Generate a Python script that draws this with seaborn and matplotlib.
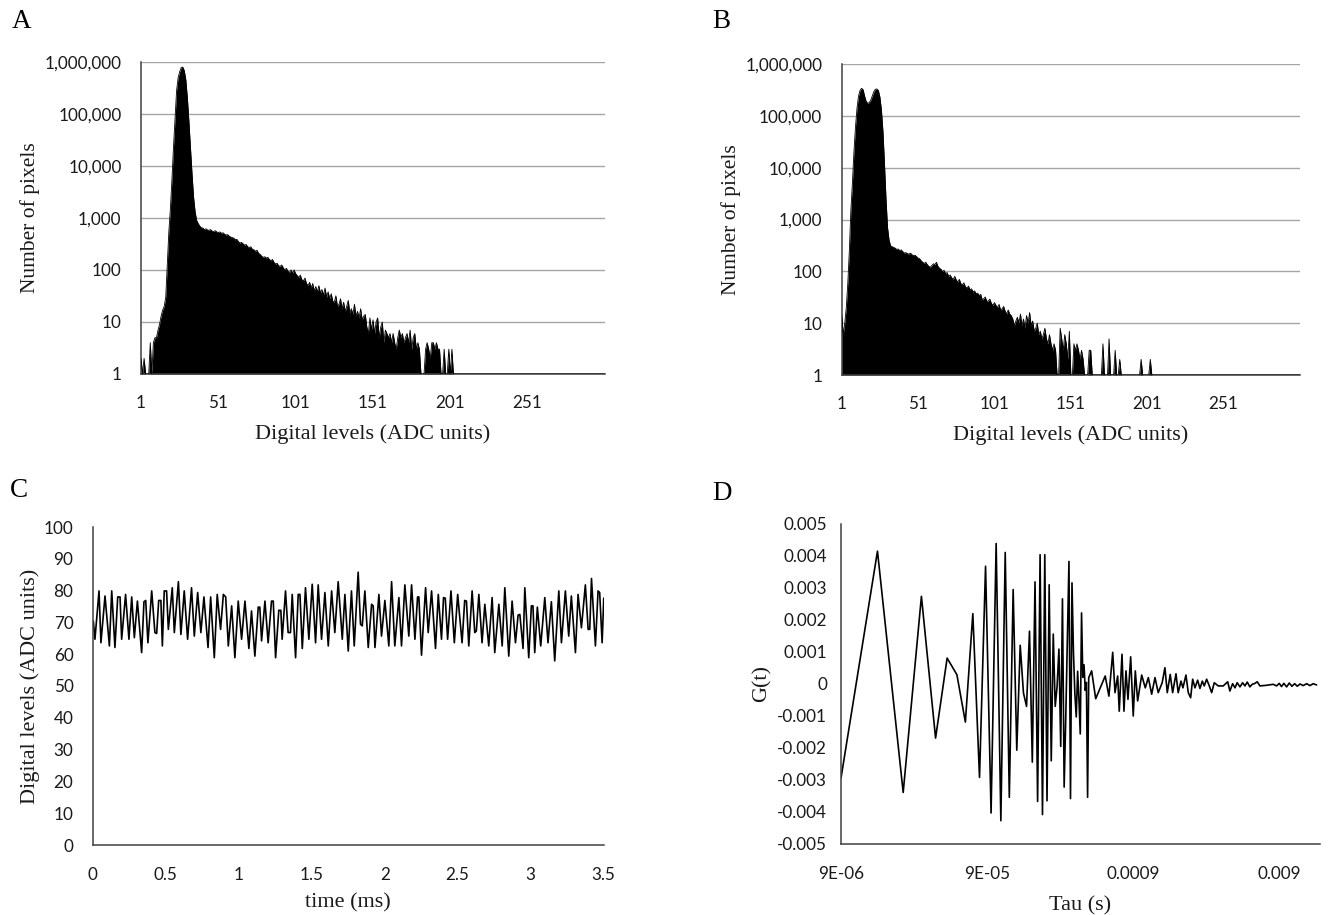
import numpy as np
import matplotlib
matplotlib.use("Agg")
import matplotlib.pyplot as plt
import seaborn as sns
from matplotlib.ticker import FixedLocator, FixedFormatter, NullLocator

# ---------------- data ----------------
adc_levels = np.arange(1, 302)

counts_a = [
    2, 1, 2, 0, 0, 0, 4, 0, 4, 5,
    5, 7, 9, 13, 17, 20, 30, 130, 550, 1500,
    5500, 23000, 80000, 280000, 500000, 650000, 780000, 800000, 680000, 450000,
    200000, 70000, 22000, 7000, 2500, 1300, 900, 780, 700, 650,
    640, 600, 620, 590, 580, 600, 560, 550, 570, 540,
    525, 540, 510, 520, 490, 470, 480, 450, 430, 420,
    410, 380, 390, 350, 330, 340, 320, 300, 310, 280,
    270, 280, 250, 245, 230, 240, 210, 200, 185, 175,
    180, 170, 175, 160, 150, 160, 140, 130, 135, 120,
    118, 125, 110, 100, 108, 95, 90, 100, 88, 100,
    85, 78, 72, 80, 65, 62, 70, 55, 50, 58,
    45, 55, 40, 48, 38, 50, 36, 42, 33, 45,
    30, 38, 28, 35, 25, 24, 32, 20, 22, 28,
    18, 24, 16, 20, 26, 15, 18, 14, 22, 13,
    16, 12, 18, 11, 13, 14, 8, 6, 12, 7,
    11, 6, 10, 12, 5, 8, 10, 4, 7, 6,
    5, 6, 4, 6, 4, 3, 5, 7, 5, 6,
    4, 5, 6, 4, 7, 3, 5, 6, 3, 4,
    3, 0, 0, 0, 3, 4, 3, 2, 4, 4,
    3, 4, 3, 3, 0, 0, 3, 0, 0, 3,
    0, 3, 0, 0, 0,
]
counts_a = counts_a + [0] * (len(adc_levels) - len(counts_a))

counts_b = [
    15, 6, 10, 20, 60, 250, 1500, 5000, 20000, 60000,
    140000, 240000, 310000, 340000, 320000, 240000, 190000, 175000, 180000, 200000,
    240000, 290000, 325000, 330000, 310000, 230000, 130000, 50000, 12000, 2500,
    700, 400, 310, 300, 290, 280, 265, 270, 250, 260,
    240, 225, 230, 220, 215, 225, 210, 200, 205, 192,
    180, 175, 160, 150, 142, 150, 135, 125, 120, 130,
    140, 135, 150, 125, 115, 110, 99, 105, 90, 95,
    80, 85, 75, 70, 80, 68, 62, 70, 58, 55,
    60, 50, 48, 52, 44, 46, 40, 42, 37, 38,
    34, 36, 28, 30, 32, 26, 27, 29, 24, 22,
    25, 22, 20, 23, 18, 19, 21, 17, 15, 18,
    15, 14, 12, 9, 11, 13, 10, 15, 9, 12,
    8, 14, 10, 16, 9, 11, 7, 8, 10, 6,
    7, 5, 6, 8, 5, 4, 6, 4, 3, 4,
    3, 0, 0, 8, 5, 3, 6, 4, 2, 7,
    0, 0, 4, 3, 4, 3, 2, 3, 2, 0,
    0, 0, 3, 3, 0, 0, 0, 0, 0, 0,
    0, 4, 0, 0, 0, 5, 0, 0, 0, 3,
    0, 0, 2, 0, 0, 0, 0, 0, 0, 0,
    0, 0, 0, 0, 0, 0, 2, 0, 0, 0,
    0, 0, 2, 0, 0,
]
counts_b = counts_b + [0] * (len(adc_levels) - len(counts_b))

time_ms = [
    0.003, 0.014, 0.042, 0.055, 0.083, 0.113, 0.129, 0.151, 0.170, 0.186,
    0.197, 0.224, 0.247, 0.266, 0.284, 0.305, 0.334, 0.350, 0.362, 0.377,
    0.403, 0.425, 0.437, 0.451, 0.466, 0.476, 0.489, 0.505, 0.517, 0.544,
    0.558, 0.586, 0.603, 0.626, 0.649, 0.676, 0.695, 0.718, 0.740, 0.761,
    0.789, 0.807, 0.832, 0.852, 0.875, 0.894, 0.910, 0.928, 0.951, 0.973,
    0.996, 1.019, 1.042, 1.069, 1.087, 1.110, 1.133, 1.144, 1.156, 1.179,
    1.201, 1.224, 1.236, 1.252, 1.274, 1.288, 1.297, 1.320, 1.338, 1.354,
    1.366, 1.389, 1.407, 1.419, 1.435, 1.457, 1.480, 1.503, 1.526, 1.544,
    1.567, 1.590, 1.613, 1.636, 1.658, 1.681, 1.709, 1.727, 1.750, 1.772,
    1.791, 1.818, 1.834, 1.846, 1.864, 1.887, 1.910, 1.921, 1.933, 1.960,
    1.978, 2.001, 2.028, 2.047, 2.069, 2.097, 2.115, 2.138, 2.165, 2.184,
    2.207, 2.225, 2.234, 2.252, 2.280, 2.298, 2.321, 2.348, 2.367, 2.389,
    2.403, 2.415, 2.431, 2.454, 2.477, 2.500, 2.530, 2.548, 2.560, 2.576,
    2.599, 2.617, 2.628, 2.645, 2.667, 2.686, 2.713, 2.736, 2.754, 2.782,
    2.805, 2.823, 2.850, 2.873, 2.896, 2.914, 2.926, 2.948, 2.960, 2.987,
    3.005, 3.016, 3.028, 3.046, 3.069, 3.097, 3.119, 3.142, 3.165, 3.193,
    3.211, 3.238, 3.261, 3.279, 3.307, 3.325, 3.348, 3.375, 3.394, 3.405,
    3.417, 3.444, 3.462, 3.473, 3.490, 3.501,
]
adc_signal = [
    70.4, 64.7, 79.9, 63.6, 78.3, 62.6, 79.9, 62.1, 78.0, 78.0,
    64.7, 78.8, 64.7, 78.0, 65.2, 76.7, 60.5, 76.5, 76.9, 63.6,
    79.9, 66.8, 66.5, 76.9, 76.9, 62.6, 79.9, 79.9, 67.8, 80.9,
    66.8, 82.8, 66.2, 79.9, 64.7, 80.9, 65.7, 79.4, 66.8, 78.0,
    62.1, 78.0, 58.9, 78.8, 67.8, 78.8, 78.0, 62.6, 75.2, 58.9,
    76.7, 64.7, 76.7, 61.8, 73.6, 59.4, 74.8, 74.8, 64.2, 76.7,
    63.6, 76.7, 76.7, 58.9, 73.8, 73.8, 64.7, 79.9, 66.8, 66.8,
    78.8, 58.9, 78.8, 78.8, 61.8, 80.9, 64.7, 82.0, 63.6, 81.8,
    64.7, 79.4, 62.6, 79.9, 66.8, 82.8, 64.7, 78.8, 61.0, 79.9,
    62.6, 85.8, 69.4, 68.9, 79.9, 62.1, 75.7, 75.2, 62.1, 78.8,
    65.7, 76.9, 62.6, 82.8, 62.6, 77.8, 62.6, 81.8, 65.7, 81.8,
    64.7, 78.0, 78.0, 59.7, 80.9, 66.8, 79.9, 61.8, 78.8, 64.7,
    77.8, 77.6, 64.7, 79.9, 63.6, 78.8, 63.6, 76.9, 76.7, 62.6,
    79.9, 66.8, 67.3, 78.8, 63.6, 75.7, 62.6, 77.8, 60.5, 75.7,
    62.6, 80.9, 59.4, 76.7, 63.6, 72.3, 72.5, 61.8, 80.9, 58.9,
    75.2, 75.2, 60.5, 74.8, 62.6, 77.8, 63.6, 76.5, 57.9, 79.9,
    63.6, 79.9, 65.7, 78.3, 60.5, 78.8, 68.3, 81.8, 67.8, 67.8,
    83.8, 62.6, 79.9, 79.4, 63.6, 77.6,
]

tau_s = [
    9e-6, 16e-6, 24e-6, 32e-6, 40e-6, 48e-6, 56e-6, 64e-6, 72e-6, 80e-6,
    88e-6, 96e-6, 104e-6, 112e-6, 120e-6, 128e-6, 136e-6, 144e-6, 152e-6, 160e-6,
    168e-6, 176e-6, 184e-6, 192e-6, 200e-6, 208e-6, 216e-6, 224e-6, 232e-6, 240e-6,
    248e-6, 256e-6, 264e-6, 272e-6, 280e-6, 288e-6, 296e-6, 304e-6, 312e-6, 320e-6,
    328e-6, 336e-6, 344e-6, 352e-6, 360e-6, 368e-6, 376e-6, 384e-6, 392e-6, 400e-6,
    408e-6, 416e-6, 424e-6, 432e-6, 440e-6, 448e-6, 469e-6, 500e-6, 581e-6, 616e-6,
    654e-6, 678e-6, 707e-6, 725e-6, 757e-6, 781e-6, 806e-6, 832e-6, 868e-6, 904e-6,
    934e-6, 969e-6, 1.033e-3, 1.093e-3, 1.147e-3, 1.209e-3, 1.274e-3, 1.341e-3, 1.427e-3, 1.490e-3,
    1.546e-3, 1.620e-3, 1.683e-3, 1.774e-3, 1.837e-3, 1.919e-3, 1.980e-3, 2.076e-3, 2.154e-3, 2.235e-3,
    2.308e-3, 2.394e-3, 2.496e-3, 2.589e-3, 2.687e-3, 2.770e-3, 2.877e-3, 3.000e-3, 3.114e-3, 3.245e-3,
    3.453e-3, 3.740e-3, 4.010e-3, 4.153e-3, 4.335e-3, 4.500e-3, 4.659e-3, 4.867e-3, 5.075e-3, 5.263e-3,
    5.460e-3, 5.692e-3, 5.904e-3, 6.165e-3, 6.390e-3, 6.669e-3, 7.416e-3, 8.226e-3, 8.676e-3, 9.041e-3,
    9.378e-3, 9.729e-3, 10.161e-3, 10.593e-3, 11.043e-3, 11.538e-3, 12.006e-3, 12.537e-3, 13.194e-3, 13.941e-3,
    14.661e-3, 15.462e-3, 16.299e-3,
]
g_tau = [
    -2.94, 4.15, -3.39, 2.74, -1.69, 0.81, 0.29, -1.19, 2.20, -2.92,
    3.68, -4.03, 4.39, -4.27, 4.11, -3.54, 2.95, -2.07, 1.21, -0.28,
    -0.70, 1.65, -2.44, 3.19, -3.67, 4.04, -4.08, 4.04, -3.65, 3.10,
    -2.40, 1.56, -0.70, -0.07, 1.09, -1.95, 2.66, -3.22, -1.00, 1.40,
    3.83, -3.58, 3.16, 1.00, -0.30, -1.03, 0.40, -0.50, -1.56, 2.22,
    0.21, 0.60, -0.20, 0.05, -3.54, 0.20, 0.41, -0.46, 0.25, -0.38,
    0.99, -0.27, 0.25, -0.85, 0.93, -0.85, 0.41, -0.48, 0.85, -1.00,
    0.41, -0.53, 0.28, -0.12, 0.20, -0.32, 0.20, -0.27, 0.04, 0.51,
    -0.27, 0.30, -0.27, 0.32, -0.27, 0.09, -0.12, 0.28, -0.27, -0.43,
    0.15, -0.12, 0.12, -0.14, 0.09, -0.06, 0.15, -0.06, -0.27, 0.04,
    -0.06, -0.06, 0.07, -0.22, 0.01, -0.12, 0.04, -0.09, 0.04, -0.06,
    0.06, -0.09, -0.01, 0.02, 0.07, -0.06, -0.04, -0.01, -0.06, 0.02,
    -0.08, 0.02, -0.09, 0.03, -0.07, 0.01, -0.07, 0.00, -0.05, 0.01,
    -0.05, 0.01, -0.03,
]
g_tau = [v * 1e-3 for v in g_tau]

hist_ticks = [1, 51, 101, 151, 201, 251]
count_ticks = [1, 10, 100, 1000, 10000, 100000, 1000000]
tau_ticks = [9e-6, 9e-5, 9e-4, 9e-3]
tau_tick_labels = ["9E-06", "9E-05", "0.0009", "0.009"]

# ---------------- style ----------------
sns.set_theme(style="white")
plt.rcParams["font.family"] = ["Lato", "DejaVu Sans"]
SERIF = ["Liberation Serif", "DejaVu Serif"]
AXC = "#404040"
TXT = "#1a1a1a"
LABEL_SIZE = 16

W, H = 1336, 915
fig = plt.figure(figsize=(W / 100, H / 100), dpi=100)


def frame(rect):
    l, t, r, b = rect
    return fig.add_axes([l / W, 1 - b / H, (r - l) / W, (b - t) / H])


def style_axes(ax, xpad=10, ypad=9):
    for s in ("top", "right"):
        ax.spines[s].set_visible(False)
    for s in ("left", "bottom"):
        ax.spines[s].set_color(AXC)
        ax.spines[s].set_linewidth(1.1)
    ax.tick_params(axis="both", which="both", direction="out", length=5,
                   width=1.1, color=AXC, labelsize=12.3, labelcolor=TXT)
    ax.tick_params(axis="x", which="both", pad=xpad)
    ax.tick_params(axis="y", which="both", pad=ypad)
    ax.set_facecolor("white")


def histogram_panel(ax, counts):
    y = np.clip(np.asarray(counts, dtype=float), 1, None)
    ax.fill_between(adc_levels, 1, y, color="black", lw=0, zorder=2)
    sns.lineplot(x=adc_levels, y=y, ax=ax, color="black", lw=0.6, zorder=3)
    ax.set_yscale("log")
    ax.set_ylim(1, 1e6)
    ax.set_xlim(1, 301)
    ax.yaxis.set_major_locator(FixedLocator(count_ticks))
    ax.yaxis.set_major_formatter(FixedFormatter([f"{v:,}" for v in count_ticks]))
    ax.yaxis.set_minor_locator(NullLocator())
    ax.xaxis.set_major_locator(FixedLocator(hist_ticks))
    ax.xaxis.set_major_formatter(FixedFormatter([str(v) for v in hist_ticks]))
    ax.xaxis.set_minor_locator(NullLocator())
    ax.yaxis.grid(True, color="#a6a6a6", lw=1.0, zorder=0)
    ax.set_axisbelow(True)
    style_axes(ax)
    ax.set_xlabel("Digital levels (ADC units)", family=SERIF,
                  fontsize=LABEL_SIZE, color=TXT, labelpad=10)
    ax.set_ylabel("Number of pixels", family=SERIF, fontsize=15.5, color=TXT,
                  labelpad=3)


ax_a = frame((141, 62, 605, 374))
histogram_panel(ax_a, counts_a)

ax_b = frame((841.7, 64, 1300, 375))
histogram_panel(ax_b, counts_b)
ax_b.xaxis.set_minor_locator(FixedLocator([301]))

# time trace
ax_c = frame((92.9, 527, 603.6, 845))
sns.lineplot(x=time_ms, y=adc_signal, ax=ax_c, color="black", lw=1.2)
ax_c.set_xlim(0, 3.5)
ax_c.set_ylim(0, 100)
ax_c.set_xticks(np.arange(0, 3.51, 0.5))
ax_c.set_xticklabels(["0", "0.5", "1", "1.5", "2", "2.5", "3", "3.5"])
ax_c.set_yticks(range(0, 101, 10))
style_axes(ax_c, xpad=11)
ax_c.set_xlabel("time (ms)", family=SERIF, fontsize=LABEL_SIZE, color=TXT,
                labelpad=7)
ax_c.set_ylabel("Digital levels (ADC units)", family=SERIF, fontsize=LABEL_SIZE,
                color=TXT, labelpad=3)

# autocorrelation
ax_d = frame((841, 524, 1320, 844))
sns.lineplot(x=tau_s, y=g_tau, ax=ax_d, color="black", lw=1.2)
ax_d.set_xscale("log")
ax_d.set_xlim(9e-6, 0.0172)
ax_d.set_ylim(-0.005, 0.005)
ax_d.xaxis.set_major_locator(FixedLocator(tau_ticks))
ax_d.xaxis.set_major_formatter(FixedFormatter(tau_tick_labels))
ax_d.xaxis.set_minor_locator(NullLocator())
yt = np.round(np.arange(-0.005, 0.0051, 0.001), 3)
ax_d.set_yticks(yt)
ax_d.set_yticklabels(["0" if v == 0 else f"{v:g}" for v in yt])
style_axes(ax_d, xpad=11, ypad=5)
ax_d.set_xlabel("Tau (s)", family=SERIF, fontsize=LABEL_SIZE, color=TXT,
                labelpad=10)
ax_d.set_ylabel("G(t)", family=SERIF, fontsize=LABEL_SIZE, color=TXT,
                labelpad=4)

for letter, (px, py) in {"A": (22, 22), "B": (721, 21), "C": (19, 490),
                         "D": (722, 493)}.items():
    fig.text(px / W, 1 - py / H, letter, ha="center", va="center",
             family=SERIF, fontsize=19.5, color="black")

fig.savefig("out.png", dpi=100, facecolor="white")
